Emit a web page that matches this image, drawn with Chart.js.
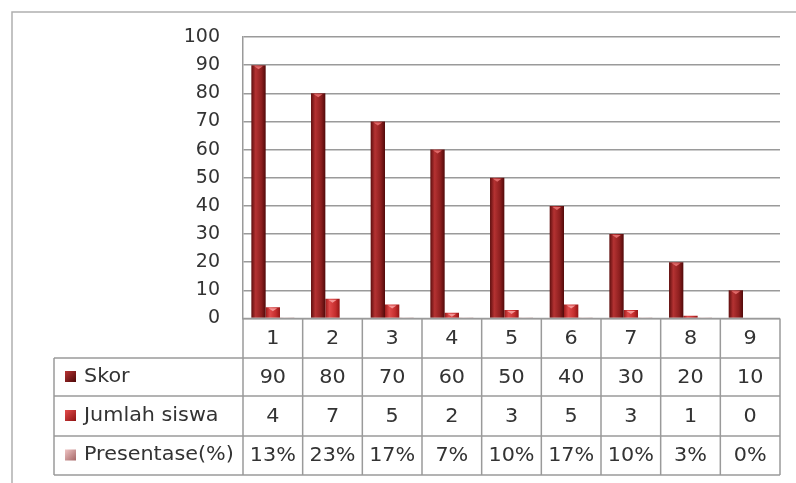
<!DOCTYPE html>
<html>
<head>
<meta charset="utf-8">
<script src="https://cdn.jsdelivr.net/npm/chart.js@4.4.1/dist/chart.umd.min.js"></script>
<style>
  html, body { margin: 0; padding: 0; background: #fff; }
</style>
</head>
<body>
<canvas id="chart" width="796" height="483"></canvas>
<script>
// data
const categories = ['1', '2', '3', '4', '5', '6', '7', '8', '9'];
const skor = [90, 80, 70, 60, 50, 40, 30, 20, 10];
const jumlahSiswa = [4, 7, 5, 2, 3, 5, 3, 1, 0];
const presentase = [0.13, 0.23, 0.17, 0.07, 0.10, 0.17, 0.10, 0.03, 0];
const seriesNames = ['Skor', 'Jumlah siswa', 'Presentase(%)'];

// shading for the 3D-ish bars: left edge, highlight, body, right edge
const shades = [
  ['#5e0e0e', '#b43232', '#8e1f1f', '#520a0a'],
  ['#9e1a1a', '#e04a4a', '#c52e2e', '#921515'],
  ['#b47878', '#ecc0c0', '#d29a9a', '#a86a6a']
];
const topColors = ['#e06a6a', '#f49494', '#f6d6d6'];

const FONT = '"DejaVu Sans", Verdana, sans-serif';
const LINE = '#9a9a9a';
const TEXT = '#333';
const STRETCH = 1.09;

function barFill(context) {
  const chart = context.chart;
  const d = context.datasetIndex;
  const x = chart.scales.x;
  if (!chart.chartArea || !x || x.width === undefined) return shades[d][2];
  const catW = x.width / categories.length;
  const groupW = catW * 0.72;
  const barW = groupW / 3;
  const center = x.getPixelForValue(context.dataIndex);
  const left = center - groupW / 2 + d * barW;
  const g = chart.ctx.createLinearGradient(left, 0, left + barW, 0);
  g.addColorStop(0, shades[d][0]);
  g.addColorStop(0.3, shades[d][1]);
  g.addColorStop(0.7, shades[d][2]);
  g.addColorStop(1, shades[d][3]);
  return g;
}

function stretchedText(ctx, text, x, y, align) {
  ctx.save();
  ctx.translate(x, y);
  ctx.scale(STRETCH, 1);
  ctx.textAlign = align;
  ctx.textBaseline = 'middle';
  ctx.fillText(text, 0, 0);
  ctx.restore();
}

const tablePlugin = {
  id: 'dataTable',
  afterDatasetsDraw(chart) {
    // small bevel marker on the top of each bar
    const ctx = chart.ctx;
    chart.data.datasets.forEach((ds, d) => {
      chart.getDatasetMeta(d).data.forEach(bar => {
        if (bar.base - bar.y < 3) return;
        ctx.save();
        ctx.fillStyle = topColors[d];
        ctx.beginPath();
        ctx.moveTo(bar.x - bar.width * 0.3, bar.y + 1);
        ctx.lineTo(bar.x + bar.width * 0.3, bar.y + 1);
        ctx.lineTo(bar.x, bar.y + 4);
        ctx.closePath();
        ctx.fill();
        ctx.restore();
      });
    });
  },
  afterDraw(chart) {
    const ctx = chart.ctx;
    const area = chart.chartArea;
    const x = chart.scales.x;
    const catW = (area.right - area.left) / categories.length;
    const rowTop = area.bottom;
    const rows = [rowTop, 358, 396, 436, 475];
    const tableLeft = 54;

    ctx.save();
    // outer frame of the chart object
    ctx.strokeStyle = '#b0b0b0';
    ctx.lineWidth = 1.5;
    ctx.beginPath();
    ctx.moveTo(12, 490);
    ctx.lineTo(12, 12);
    ctx.lineTo(800, 12);
    ctx.stroke();

    // table grid
    ctx.strokeStyle = LINE;
    ctx.lineWidth = 1.5;
    ctx.beginPath();
    ctx.moveTo(area.left, rows[0]);
    ctx.lineTo(area.right, rows[0]);
    for (let r = 1; r < rows.length; r++) {
      ctx.moveTo(tableLeft, rows[r]);
      ctx.lineTo(area.right, rows[r]);
    }
    ctx.moveTo(tableLeft, rows[1]);
    ctx.lineTo(tableLeft, rows[4]);
    for (let i = 0; i <= categories.length; i++) {
      const px = area.left + i * catW;
      ctx.moveTo(px, rows[0]);
      ctx.lineTo(px, rows[4]);
    }
    ctx.stroke();

    // texts
    ctx.fillStyle = TEXT;
    ctx.font = '19px ' + FONT;
    const cellRows = [
      categories,
      skor.map(String),
      jumlahSiswa.map(String),
      presentase.map(v => Math.round(v * 100) + '%')
    ];
    cellRows.forEach((vals, r) => {
      const cy = (rows[r] + rows[r + 1]) / 2 + 1;
      vals.forEach((v, i) => {
        stretchedText(ctx, v, x.getPixelForValue(i), cy, 'center');
      });
    });

    // series names with legend keys
    seriesNames.forEach((name, s) => {
      const cy = (rows[s + 1] + rows[s + 2]) / 2;
      const g = ctx.createLinearGradient(65, cy - 5, 75, cy + 5);
      g.addColorStop(0, shades[s][1]);
      g.addColorStop(1, shades[s][3]);
      ctx.fillStyle = g;
      ctx.fillRect(65, cy - 6, 11, 11);
      ctx.fillStyle = TEXT;
      stretchedText(ctx, name, 84, cy, 'left');
    });
    ctx.restore();
  }
};

new Chart(document.getElementById('chart'), {
  type: 'bar',
  data: {
    labels: categories,
    datasets: [
      { label: seriesNames[0], data: skor, backgroundColor: barFill },
      { label: seriesNames[1], data: jumlahSiswa, backgroundColor: barFill },
      { label: seriesNames[2], data: presentase, backgroundColor: barFill }
    ]
  },
  options: {
    responsive: false,
    animation: false,
    layout: { padding: { top: 37, right: 16, bottom: 164.5, left: 0 } },
    datasets: {
      bar: { categoryPercentage: 0.72, barPercentage: 1.0 }
    },
    scales: {
      x: { display: false },
      y: {
        min: 0,
        max: 100,
        afterFit(scale) { scale.width = 243; },
        ticks: {
          stepSize: 10,
          padding: 23,
          color: TEXT,
          font: { family: FONT, size: 19 }
        },
        grid: { color: LINE, lineWidth: 1.5, drawTicks: false },
        border: { display: true, color: LINE, width: 1.5 }
      }
    },
    plugins: {
      legend: { display: false },
      tooltip: { enabled: false }
    }
  },
  plugins: [tablePlugin]
});
</script>
</body>
</html>
